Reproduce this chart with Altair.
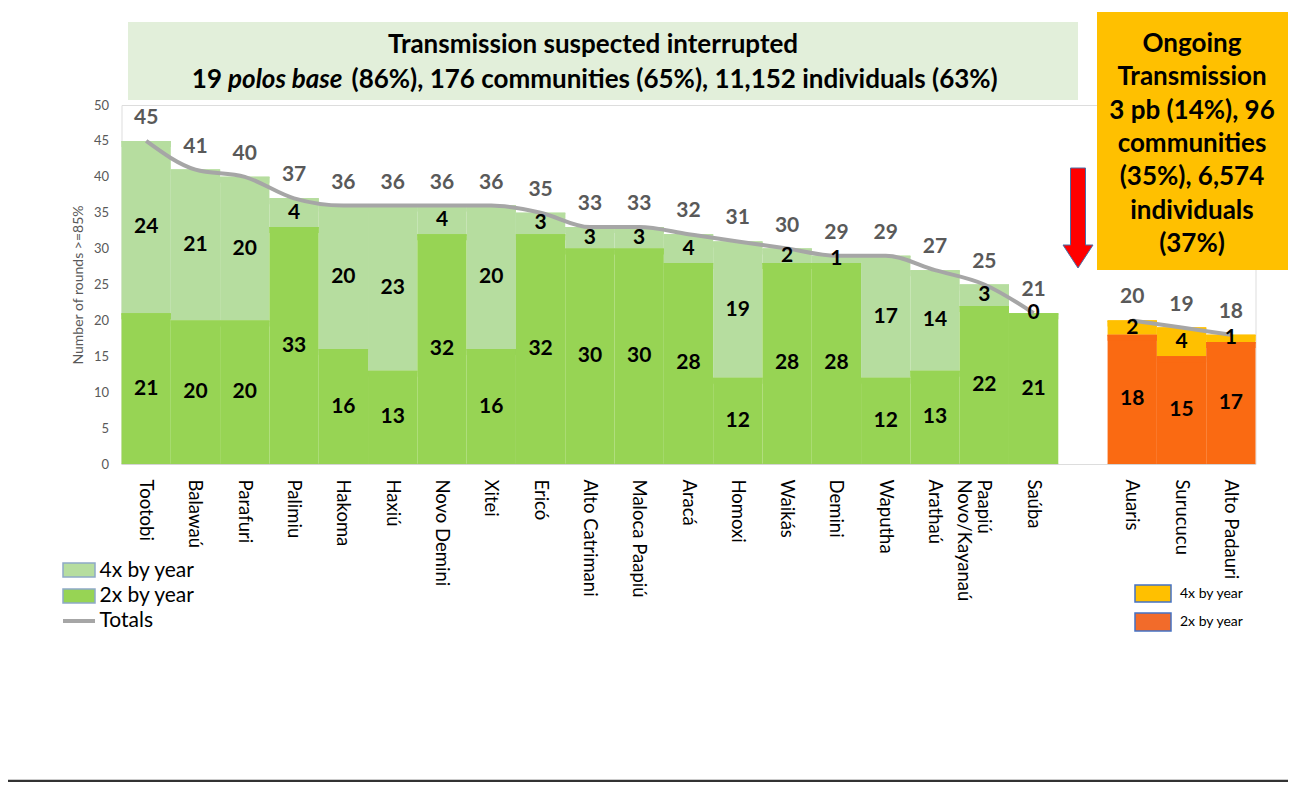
import altair as alt
import pandas as pd

# ---------------- data ----------------
green_names = ["Tootobi", "Balawaú", "Parafuri", "Palimiu", "Hakoma", "Haxiú",
               "Novo Demini", "Xitei", "Ericó", "Alto Catrimani", "Maloca Paapiú",
               "Aracá", "Homoxi", "Waikás", "Demini", "Waputha", "Arathaú",
               "Paapiú Novo/Kayanaú", "Saúba"]
green_2x = [21, 20, 20, 33, 16, 13, 32, 16, 32, 30, 30, 28, 12, 28, 28, 12, 13, 22, 21]
green_4x = [24, 21, 20, 4, 20, 23, 4, 20, 3, 3, 3, 4, 19, 2, 1, 17, 14, 3, 0]
green_totals = [45, 41, 40, 37, 36, 36, 36, 36, 35, 33, 33, 32, 31, 30, 29, 29, 27, 25, 21]

orange_names = ["Auaris", "Surucucu", "Alto Padauri"]
orange_2x = [18, 15, 17]
orange_4x = [2, 4, 1]
orange_totals = [20, 19, 18]

y_ticks = [0, 5, 10, 15, 20, 25, 30, 35, 40, 45, 50]

title_line1 = "Transmission suspected interrupted"
title_line2_a = "19"
title_line2_b = "polos base"
title_line2_c = "(86%), 176 communities (65%), 11,152 individuals (63%)"
ongoing_text = "Ongoing\nTransmission\n3 pb (14%), 96\ncommunities\n(35%), 6,574\nindividuals\n(37%)"

GAP = " "
domain = green_names + [GAP] + orange_names

rows = []
for grp, names, a, b in [("g", green_names, green_2x, green_4x),
                         ("o", orange_names, orange_2x, orange_4x)]:
    for n, v2, v4 in zip(names, a, b):
        rows.append(dict(name=n, key=grp + "2", y0=0, y1=v2, mid=v2 / 2, label=v2))
        rows.append(dict(name=n, key=grp + "4", y0=v2, y1=v2 + v4, mid=v2 + v4 / 2, label=v4))
seg = pd.DataFrame(rows)

tot = pd.DataFrame(
    [dict(name=n, total=t, grp="g") for n, t in zip(green_names, green_totals)]
    + [dict(name=n, total=t, grp="o") for n, t in zip(orange_names, orange_totals)]
)

# ---------------- layout ----------------
W, H = 1134, 359
BW = W / len(domain)
FONT = "Lato"

key_dom = ["g2", "g4", "o2", "o4"]
fill_scale = alt.Scale(domain=key_dom, range=["#97d454", "#b6dd9f", "#fa6a12", "#ffc000"])
hi_scale = alt.Scale(domain=key_dom, range=["#c4ee96", "#d2eec2", "#ff9b5a", "#ffdb70"])
edge_scale = alt.Scale(domain=key_dom, range=["#8ea9c8", "#8ea9c8", "#8ea9c8", "#8ea9c8"])

x_enc = alt.X(
    "name:N",
    sort=domain,
    scale=alt.Scale(domain=domain, paddingInner=0, paddingOuter=0),
    axis=alt.Axis(
        title=None, labelAngle=90, labelAlign="left", labelBaseline="middle",
        labelPadding=15, ticks=False, domain=False, labelFontSize=18.5,
        labelColor="#000000", labelFont=FONT, labelLineHeight=20,
        labelExpr="datum.label == 'Paapiú Novo/Kayanaú' ? ['Paapiú', 'Novo/Kayanaú'] : datum.label",
    ),
)
y_scale = alt.Scale(domain=[0, 50])
y_axis = alt.Axis(
    values=y_ticks, title="Number of rounds >=85%", grid=False, domain=False,
    ticks=False, labelPadding=13, labelColor="#595959", labelFontSize=13,
    titleColor="#595959", titleFontSize=14, titleFontWeight="normal",
    titlePadding=8, labelFont=FONT, titleFont=FONT,
)

base = alt.Chart(seg)

bars = base.mark_bar().encode(
    x=x_enc,
    y=alt.Y("y1:Q", scale=y_scale, axis=y_axis),
    y2="y0:Q",
    color=alt.Color("key:N", scale=fill_scale, legend=None),
)

top_nz = base.transform_filter("datum.y1 > datum.y0")
highlight = top_nz.mark_bar(y2Offset=6).encode(
    x=x_enc,
    y=alt.Y("y1:Q", scale=y_scale, axis=y_axis),
    y2="y1:Q",
    color=alt.Color("key:N", scale=hi_scale, legend=None),
)
edge = top_nz.mark_bar(y2Offset=1.5).encode(
    x=x_enc,
    y=alt.Y("y1:Q", scale=y_scale, axis=y_axis),
    y2="y1:Q",
    color=alt.Color("key:N", scale=edge_scale, legend=None),
)

seg_labels = base.mark_text(fontSize=21, fontWeight="bold", color="#000000",
                            font=FONT, baseline="middle").encode(
    x=x_enc,
    y=alt.Y("mid:Q", scale=y_scale, axis=y_axis),
    text="label:Q",
)

tot_base = alt.Chart(tot)
tot_line = tot_base.mark_line(color="#a6a6a6", strokeWidth=4, interpolate="monotone").encode(
    x=x_enc,
    y=alt.Y("total:Q", scale=y_scale, axis=y_axis),
    detail="grp:N",
)
tot_labels = tot_base.mark_text(fontSize=21, fontWeight="bold", color="#595959",
                                font=FONT, dy=-23, baseline="middle").encode(
    x=x_enc,
    y=alt.Y("total:Q", scale=y_scale, axis=y_axis),
    text="total:Q",
)

one = alt.Data(values=[{"k": 0}])


def rect(x1, x2, y1, y2, **kw):
    return alt.Chart(one).mark_rect(**kw).encode(
        x=alt.value(x1), x2=alt.value(x2), y=alt.value(y1), y2=alt.value(y2))


def text(t, x, y, **kw):
    return alt.Chart(one).mark_text(font=FONT, **kw).encode(
        x=alt.value(x), y=alt.value(y), text=alt.value(t))


def hrule(x1, x2, y, **kw):
    return alt.Chart(one).mark_rule(**kw).encode(
        x=alt.value(x1), x2=alt.value(x2), y=alt.value(y))


# baselines
base_g = hrule(0, 19 * BW, H, color="#d0d0d0", strokeWidth=1.5)
base_o = hrule(20 * BW, 23 * BW, H, color="#d0d0d0", strokeWidth=1.5)

# title box
title_box = rect(6.5, 956.5, -83, -5, fill="#e2efda")
t1 = text(title_line1, 471.5, -60, fontSize=26, fontWeight="bold", align="center", baseline="middle", color="#000")
t2a = text(title_line2_a, 100.5, -25, fontSize=26, fontWeight="bold", align="right", baseline="middle", color="#000")
t2b = text(title_line2_b, 106.5, -25, fontSize=26, fontWeight="bold", fontStyle="italic", align="left", baseline="middle", color="#000")
t2c = text(title_line2_c, 230, -25, fontSize=26, fontWeight="bold", align="left", baseline="middle", color="#000")

# ongoing box
og_box = rect(975.5, 1166.5, -93, 165, fill="#ffc000")
og_text = text(ongoing_text, 1070.5, -61, fontSize=26, fontWeight="bold", align="center",
               baseline="middle", lineBreak="\n", lineHeight=33.3, color="#000")

# red arrow
arrow = alt.Chart(one).mark_point(
    shape="M-0.15,-1 L0.15,-1 L0.15,0.54 L0.3,0.54 L0,1 L-0.3,0.54 L-0.15,0.54 Z",
    filled=True, fill="#ff0000", stroke="#4a6fa5", strokeWidth=1, opacity=1, size=10000,
).encode(x=alt.value(956.5), y=alt.value(113))

# left legend
lg1 = rect(-58.5, -26.5, 458, 472, fill="#b6dd9f", stroke="#8ea9c8", strokeWidth=1.5)
lg2 = rect(-58.5, -26.5, 484, 498, fill="#97d454", stroke="#8ea9c8", strokeWidth=1.5)
lg3 = hrule(-58.5, -26.5, 516, color="#a6a6a6", strokeWidth=4)
lt1 = text("4x by year", -22, 466, fontSize=21, align="left", baseline="middle", color="#000")
lt2 = text("2x by year", -22, 491, fontSize=21, align="left", baseline="middle", color="#000")
lt3 = text("Totals", -22, 516, fontSize=21, align="left", baseline="middle", color="#000")

# right legend
rg1 = rect(1013.5, 1049.5, 480, 497, fill="#ffc000", stroke="#4472c4", strokeWidth=1.5)
rg2 = rect(1013.5, 1049.5, 508, 526, fill="#f26b2a", stroke="#4472c4", strokeWidth=1.5)
rt1 = text("4x by year", 1058.5, 488.5, fontSize=14, align="left", baseline="middle", color="#000")
rt2 = text("2x by year", 1058.5, 517, fontSize=14, align="left", baseline="middle", color="#000")

# bottom line
bottom = hrule(-113.5, 1166.5, 676, color="#333333", strokeWidth=2.5)

chart = alt.layer(
    title_box, og_box, base_g, base_o,
    bars, highlight, edge, tot_line, seg_labels, tot_labels,
    t1, t2a, t2b, t2c, og_text, arrow,
    lg1, lg2, lg3, lt1, lt2, lt3, rg1, rg2, rt1, rt2, bottom,
).properties(
    width=W, height=H,
    autosize=alt.AutoSizeParams(type="none"),
    padding={"left": 113.5, "top": 97, "right": 33, "bottom": 318},
).configure_view(
    stroke=None, clip=False
).configure(
    font=FONT
)

chart.save("out.html", embed_options={"renderer": "svg", "actions": False})
